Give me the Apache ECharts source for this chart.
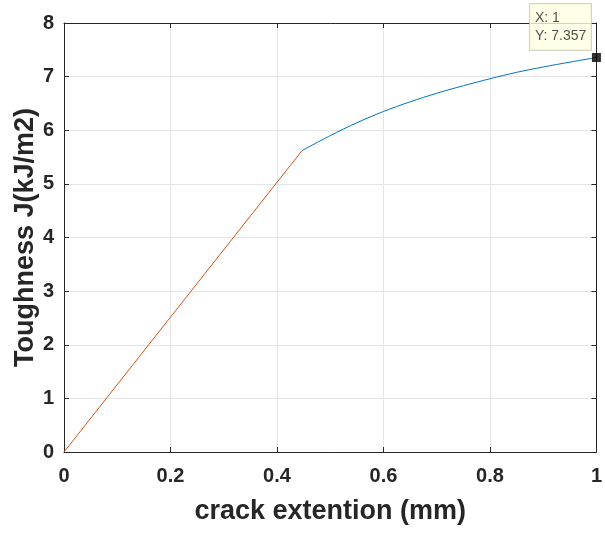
<!DOCTYPE html>
<html>
<head>
<meta charset="utf-8">
<script src="https://cdn.jsdelivr.net/npm/echarts@6/dist/echarts.min.js"></script>
<style>html,body{margin:0;padding:0;background:#fff}#c{width:605px;height:535px}</style>
</head>
<body>
<div id="c"></div>
<script>
// Linear (elastic) segment
const redX = [0, 0.447];
const redY = [0, 5.62];
// R-curve segment
const blueX = [0.447, 0.5, 0.55, 0.6, 0.65, 0.7, 0.75, 0.8, 0.85, 0.9, 0.95, 1.0];
const blueY = [5.62, 5.90, 6.14, 6.35, 6.53, 6.69, 6.83, 6.96, 7.08, 7.18, 7.27, 7.357];
// Data tip
const tipX = 1;
const tipY = 7.357;
const xTicks = [0, 0.2, 0.4, 0.6, 0.8, 1];
const yTicks = [0, 1, 2, 3, 4, 5, 6, 7, 8];

const pairs = (xs, ys) => xs.map((x, i) => [x, ys[i]]);
const font = "'Liberation Sans', Arial, Helvetica, sans-serif";
const axisCol = '#262626';

const chart = echarts.init(document.getElementById('c'), null, {renderer: 'canvas'});
chart.setOption({
  animation: false,
  backgroundColor: '#fff',
  grid: {left: 64, right: 4, top: 23, bottom: 83, containLabel: false},
  xAxis: [{
    type: 'value', min: 0, max: 1, interval: 0.2,
    name: 'crack extention (mm)', nameLocation: 'middle', nameGap: 46, nameMoveOverlap: false,
    nameTextStyle: {fontFamily: font, fontWeight: 'bold', fontSize: 27, color: axisCol},
    axisLine: {show: true, onZero: false, lineStyle: {color: axisCol, width: 1}},
    axisTick: {show: true, inside: true, length: 5, lineStyle: {color: axisCol}},
    axisLabel: {fontFamily: font, fontWeight: 'bold', fontSize: 20, color: axisCol, margin: 14,
      formatter: v => String(Math.round(v * 10) / 10)},
    splitLine: {show: true, lineStyle: {color: '#e5e5e5', width: 1}}
  }, {
    type: 'value', min: 0, max: 1, interval: 0.2, position: 'top',
    axisLine: {show: true, onZero: false, lineStyle: {color: axisCol, width: 1}},
    axisTick: {show: true, inside: true, length: 5, lineStyle: {color: axisCol}},
    axisLabel: {show: false}, splitLine: {show: false}
  }],
  yAxis: [{
    type: 'value', min: 0, max: 8, interval: 1,
    name: 'Toughness J(kJ/m2)', nameLocation: 'middle', nameGap: 25, nameMoveOverlap: false,
    nameTextStyle: {fontFamily: font, fontWeight: 'bold', fontSize: 27, color: axisCol},
    axisLine: {show: true, onZero: false, lineStyle: {color: axisCol, width: 1}},
    axisTick: {show: true, inside: true, length: 5, lineStyle: {color: axisCol}},
    axisLabel: {fontFamily: font, fontWeight: 'bold', fontSize: 20, color: axisCol, margin: 10},
    splitLine: {show: true, lineStyle: {color: '#e5e5e5', width: 1}}
  }, {
    type: 'value', min: 0, max: 8, interval: 1, position: 'right',
    axisLine: {show: true, onZero: false, lineStyle: {color: axisCol, width: 1}},
    axisTick: {show: true, inside: true, length: 5, lineStyle: {color: axisCol}},
    axisLabel: {show: false}, splitLine: {show: false}
  }],
  series: [{
    type: 'line', data: pairs(redX, redY), showSymbol: false, symbol: 'none',
    lineStyle: {color: '#D95319', width: 1}
  }, {
    type: 'line', data: pairs(blueX, blueY), showSymbol: false, symbol: 'none', smooth: 0.3,
    lineStyle: {color: '#0072BD', width: 1}
  }, {
    type: 'scatter', data: [[tipX, tipY]], symbol: 'rect', symbolSize: 9, z: 10,
    itemStyle: {color: '#000'},
    label: {
      show: true, position: [-62, -49],
      formatter: p => 'X: ' + p.value[0] + '\nY: ' + p.value[1],
      fontFamily: font, fontSize: 14, color: '#262626', lineHeight: 18,
      backgroundColor: '#ffffe1', borderColor: '#c8c8b4', borderWidth: 1,
      padding: [5, 5, 5, 5], width: 51
    }
  }]
});
</script>
</body>
</html>
